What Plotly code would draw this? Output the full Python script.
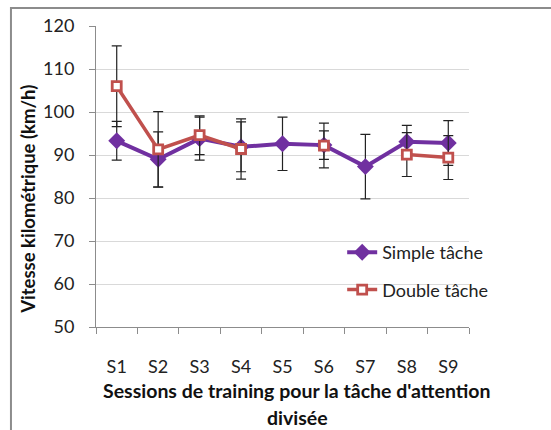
import plotly.graph_objects as go

sessions = ["S1", "S2", "S3", "S4", "S5", "S6", "S7", "S8", "S9"]

simple_mean = [93.3, 89.0, 93.8, 91.9, 92.6, 92.3, 87.3, 93.1, 92.8]
simple_err = [4.5, 6.4, 5.0, 5.8, 6.2, 3.3, 7.5, 3.8, 5.2]

double_mean = [106.0, 91.3, 94.6, 91.4, None, 92.2, None, 90.1, 89.4]
double_err = [9.4, 8.8, 4.5, 7.0, None, 5.2, None, 5.1, 5.1]

y_ticks = [50, 60, 70, 80, 90, 100, 110, 120]

PURPLE = "#7030A0"
RED = "#C0504D"
FONT = "Lato, 'Open Sans', sans-serif"
TITLE_FONT = dict(family=FONT, size=19.5, color="#111111")

fig = go.Figure()

fig.add_trace(go.Scatter(
    x=sessions, y=simple_mean, name="Simple tâche",
    mode="lines+markers",
    line=dict(color=PURPLE, width=4),
    marker=dict(symbol="diamond", size=13, color=PURPLE),
    error_y=dict(type="data", array=simple_err, visible=True,
                 color="#222222", thickness=1.2, width=5),
    legendgroup="a",
))

fig.add_trace(go.Scatter(
    x=sessions, y=double_mean, name="Double tâche",
    mode="lines+markers", connectgaps=False,
    line=dict(color=RED, width=3.5),
    marker=dict(symbol="square", size=9, color="white",
                line=dict(color=RED, width=2.8)),
    error_y=dict(type="data", array=double_err, visible=True,
                 color="#222222", thickness=1.2, width=5),
    legendgroup="b",
))

fig.update_layout(
    width=551, height=430,
    margin=dict(l=96, r=82, t=26, b=103),
    paper_bgcolor="white", plot_bgcolor="white",
    font=dict(family=FONT, size=18, color="#222222"),
    showlegend=True,
    legend=dict(x=0.66, y=0.186, xanchor="left", yanchor="middle",
                bgcolor="rgba(0,0,0,0)", tracegroupgap=11,
                font=dict(family=FONT, size=18, color="#222222")),
    xaxis=dict(
        type="category", range=[-0.5, 8.5],
        showline=True, linecolor="#8c8c8c", linewidth=1,
        ticks="outside", tickson="boundaries", ticklen=6,
        tickcolor="#8c8c8c", showgrid=False,
        ticklabelstandoff=23,
        tickfont=dict(family=FONT, size=18, color="#222222"),
    ),
    yaxis=dict(
        range=[50, 120], tickvals=y_ticks,
        showline=True, linecolor="#8c8c8c", linewidth=1,
        ticks="outside", ticklen=6, tickcolor="#8c8c8c",
        showgrid=True, gridcolor="#d9d9d9", gridwidth=1,
        zeroline=False, ticklabelstandoff=11,
        tickfont=dict(family=FONT, size=18, color="#222222"),
    ),
    annotations=[
        dict(text="<b>Sessions de training pour la tâche d'attention</b>",
             xref="paper", yref="paper", x=0.539, y=-0.2126,
             xanchor="center", yanchor="middle", showarrow=False,
             font=TITLE_FONT),
        dict(text="<b>divisée</b>",
             xref="paper", yref="paper", x=0.539, y=-0.302,
             xanchor="center", yanchor="middle", showarrow=False,
             font=TITLE_FONT),
        dict(text="<b>Vitesse kilométrique (km/h)</b>",
             xref="paper", yref="paper", x=-0.182, y=0.423,
             xanchor="center", yanchor="middle", textangle=-90,
             showarrow=False,
             font=dict(family=FONT, size=18.5, color="#111111")),
    ],
    shapes=[
        dict(type="rect", xref="paper", yref="paper",
             x0=-0.228, x1=1.4, y0=-0.6, y1=1.06,
             line=dict(color="#8c8c8c", width=2), layer="below"),
    ],
)

fig.write_html("out.html")
